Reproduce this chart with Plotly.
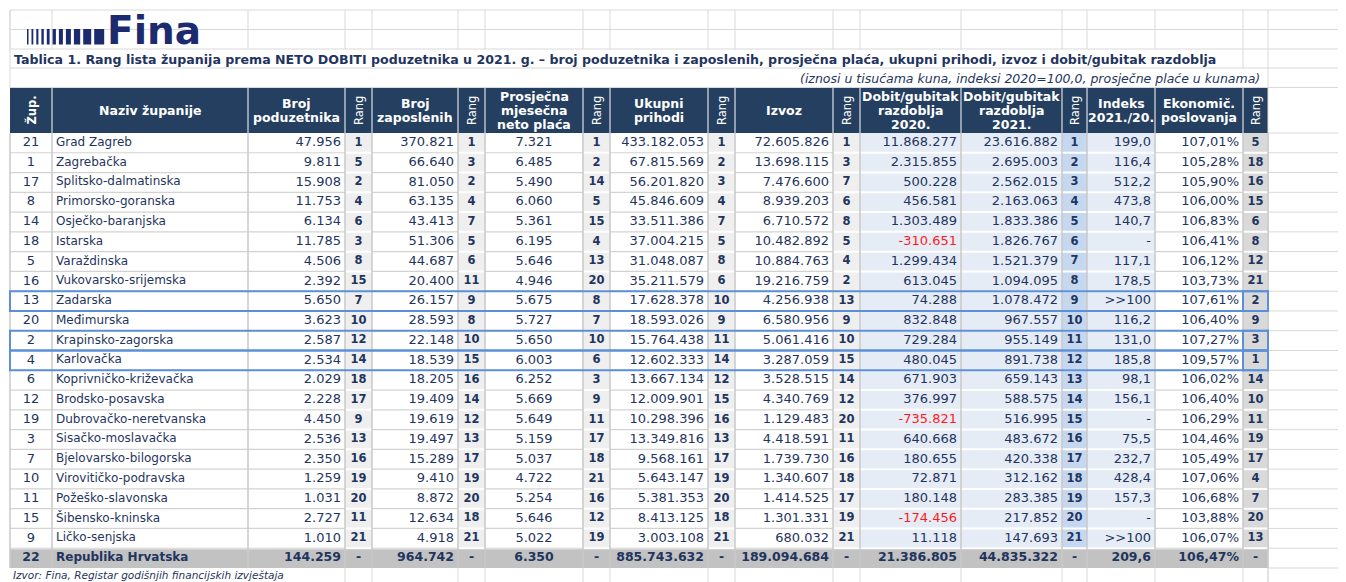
import plotly.graph_objects as go

# ---------------- data ----------------
zup = [21, 1, 17, 8, 14, 18, 5, 16, 13, 20, 2, 4, 6, 12, 19, 3, 7, 10, 11, 15, 9]
zupanije = ["Grad Zagreb", "Zagrebačka", "Splitsko-dalmatinska", "Primorsko-goranska",
            "Osječko-baranjska", "Istarska", "Varaždinska", "Vukovarsko-srijemska",
            "Zadarska", "Međimurska", "Krapinsko-zagorska", "Karlovačka",
            "Koprivničko-križevačka", "Brodsko-posavska", "Dubrovačko-neretvanska",
            "Sisačko-moslavačka", "Bjelovarsko-bilogorska", "Virovitičko-podravska",
            "Požeško-slavonska", "Šibensko-kninska", "Ličko-senjska"]
broj_poduzetnika = [47956, 9811, 15908, 11753, 6134, 11785, 4506, 2392, 5650, 3623, 2587,
                    2534, 2029, 2228, 4450, 2536, 2350, 1259, 1031, 2727, 1010]
rang_poduzetnika = [1, 5, 2, 4, 6, 3, 8, 15, 7, 10, 12, 14, 18, 17, 9, 13, 16, 19, 20, 11, 21]
broj_zaposlenih = [370821, 66640, 81050, 63135, 43413, 51306, 44687, 20400, 26157, 28593, 22148,
                   18539, 18205, 19409, 19619, 19497, 15289, 9410, 8872, 12634, 4918]
rang_zaposlenih = [1, 3, 2, 4, 7, 5, 6, 11, 9, 8, 10, 15, 16, 14, 12, 13, 17, 19, 20, 18, 21]
neto_placa = [7321, 6485, 5490, 6060, 5361, 6195, 5646, 4946, 5675, 5727, 5650,
              6003, 6252, 5669, 5649, 5159, 5037, 4722, 5254, 5646, 5022]
rang_placa = [1, 2, 14, 5, 15, 4, 13, 20, 8, 7, 10, 6, 3, 9, 11, 17, 18, 21, 16, 12, 19]
ukupni_prihodi = [433182053, 67815569, 56201820, 45846609, 33511386, 37004215, 31048087,
                  35211579, 17628378, 18593026, 15764438, 12602333, 13667134, 12009901,
                  10298396, 13349816, 9568161, 5643147, 5381353, 8413125, 3003108]
rang_prihodi = [1, 2, 3, 4, 7, 5, 8, 6, 10, 9, 11, 14, 12, 15, 16, 13, 17, 19, 20, 18, 21]
izvoz = [72605826, 13698115, 7476600, 8939203, 6710572, 10482892, 10884763, 19216759,
         4256938, 6580956, 5061416, 3287059, 3528515, 4340769, 1129483, 4418591,
         1739730, 1340607, 1414525, 1301331, 680032]
rang_izvoz = [1, 3, 7, 6, 8, 5, 4, 2, 13, 9, 10, 15, 14, 12, 20, 11, 16, 18, 17, 19, 21]
dobit_2020 = [11868277, 2315855, 500228, 456581, 1303489, -310651, 1299434, 613045, 74288,
              832848, 729284, 480045, 671903, 376997, -735821, 640668, 180655, 72871,
              180148, -174456, 11118]
dobit_2021 = [23616882, 2695003, 2562015, 2163063, 1833386, 1826767, 1521379, 1094095,
              1078472, 967557, 955149, 891738, 659143, 588575, 516995, 483672, 420338,
              312162, 283385, 217852, 147693]
rang_dobit = [1, 2, 3, 4, 5, 6, 7, 8, 9, 10, 11, 12, 13, 14, 15, 16, 17, 18, 19, 20, 21]
indeks = [199.0, 116.4, 512.2, 473.8, 140.7, None, 117.1, 178.5, ">>100", 116.2, 131.0,
          185.8, 98.1, 156.1, None, 75.5, 232.7, 428.4, 157.3, None, ">>100"]
ekonomicnost = [107.01, 105.28, 105.90, 106.00, 106.83, 106.41, 106.12, 103.73, 107.61,
                106.40, 107.27, 109.57, 106.02, 106.40, 106.29, 104.46, 105.49, 107.06,
                106.68, 103.88, 106.07]
rang_ekonomicnost = [5, 18, 16, 15, 6, 8, 12, 21, 2, 9, 3, 1, 14, 10, 11, 19, 17, 4, 7, 20, 13]

ukupno_zup = 22
ukupno_naziv = "Republika Hrvatska"
ukupno_poduzetnika = 144259
ukupno_zaposlenih = 964742
ukupno_placa = 6350
ukupno_prihodi = 885743632
ukupno_izvoz = 189094684
ukupno_dobit_2020 = 21386805
ukupno_dobit_2021 = 44835322
ukupno_indeks = 209.6
ukupno_ekonomicnost = 106.47

istaknute = ["Zadarska", "Krapinsko-zagorska", "Karlovačka"]

naslovi = ["Žup.", "Naziv županije", "Broj<br>poduzetnika", "Rang", "Broj<br>zaposlenih", "Rang",
           "Prosječna<br>mjesečna<br>neto plaća", "Rang", "Ukupni<br>prihodi", "Rang", "Izvoz",
           "Rang", "Dobit/gubitak<br>razdoblja<br>2020.", "Dobit/gubitak<br>razdoblja<br>2021.",
           "Rang", "Indeks<br>2021./20.", "Ekonomič.<br>poslovanja", "Rang"]

title = ("Tablica 1. Rang lista županija prema NETO DOBITI poduzetnika u 2021. g. – broj poduzetnika "
         "i zaposlenih, prosječna plaća, ukupni prihodi, izvoz i dobit/gubitak razdoblja")
subtitle = "(iznosi u tisućama kuna, indeksi 2020=100,0, prosječne plaće u kunama)"
source = "Izvor: Fina, Registar godišnjih financijskih izvještaja"

# ---------------- styling / layout ----------------
W, H = 1346, 582
OFF = 8  # page body margin: the plot div starts at (8, 8)
FONT = "DejaVu Sans"
NAVY = "#1f3560"
HEADER_BG = "#253f61"
EDGES = [10, 52, 248, 345, 372, 458, 485, 583, 610, 708, 735, 833, 860, 961, 1062, 1087,
         1155, 1243, 1268]
HEAD_TOP, HEAD_BOT, TABLE_BOT = 88, 133, 568
N = len(zupanije)
ROW_H = (TABLE_BOT - HEAD_BOT) / (N + 1)
RANG_BG, BLUE_BG, BLUE_RANG_BG, GRAY_RANG_BG, TOTAL_BG = "#efefef", "#e6ecf5", "#c6d8ef", "#d9d9d9", "#c2c2c2"
COL_FILL = ["white", "white", "white", RANG_BG, "white", RANG_BG, "white", RANG_BG, "white",
            RANG_BG, "white", RANG_BG, BLUE_BG, BLUE_BG, BLUE_RANG_BG, BLUE_BG, "white", GRAY_RANG_BG]
GRID = "#d9d9d9"


def row_top(i):
    return HEAD_BOT + i * ROW_H


def row_mid(i):
    return HEAD_BOT + (i + 0.5) * ROW_H


def thou(v):
    s = f"{abs(v):,}".replace(",", ".")
    return "-" + s if v < 0 else s


def dec1(v):
    if v is None:
        return "-"
    if isinstance(v, str):
        return v
    return f"{v:.1f}".replace(".", ",")


def pct(v):
    return f"{v:.2f}".replace(".", ",") + "%"


def rng(vals):
    return [str(v) for v in vals]


# (texts, total text, align, kind)
columns = [
    ([str(v) for v in zup], str(ukupno_zup), "center", "plain"),
    (zupanije, ukupno_naziv, "left", "plain"),
    ([thou(v) for v in broj_poduzetnika], thou(ukupno_poduzetnika), "right", "plain"),
    (rng(rang_poduzetnika), "-", "center", "rang"),
    ([thou(v) for v in broj_zaposlenih], thou(ukupno_zaposlenih), "right", "plain"),
    (rng(rang_zaposlenih), "-", "center", "rang"),
    ([thou(v) for v in neto_placa], thou(ukupno_placa), "center", "plain"),
    (rng(rang_placa), "-", "center", "rang"),
    ([thou(v) for v in ukupni_prihodi], thou(ukupno_prihodi), "right", "plain"),
    (rng(rang_prihodi), "-", "center", "rang"),
    ([thou(v) for v in izvoz], thou(ukupno_izvoz), "right", "plain"),
    (rng(rang_izvoz), "-", "center", "rang"),
    ([thou(v) for v in dobit_2020], thou(ukupno_dobit_2020), "right", "plain"),
    ([thou(v) for v in dobit_2021], thou(ukupno_dobit_2021), "right", "plain"),
    (rng(rang_dobit), "-", "center", "rang"),
    ([dec1(v) for v in indeks], dec1(ukupno_indeks), "right", "plain"),
    ([pct(v) for v in ekonomicnost], pct(ukupno_ekonomicnost), "right", "plain"),
    (rng(rang_ekonomicnost), "-", "center", "rang"),
]

fig = go.Figure()
shapes = []


def rect(x0, x1, y0, y1, fill, line=None, lw=0, layer="below"):
    shapes.append(dict(type="rect", xref="x", yref="y", x0=x0, x1=x1, y0=y0, y1=y1,
                       fillcolor=fill, line=dict(color=line or "rgba(0,0,0,0)", width=lw),
                       layer=layer))


def add_lines(segs, color, width):
    xs, ys = [], []
    for (x0, y0, x1, y1) in segs:
        xs += [x0, x1, None]
        ys += [y0, y1, None]
    fig.add_trace(go.Scatter(x=xs, y=ys, mode="lines", line=dict(color=color, width=width),
                             hoverinfo="skip", showlegend=False))


# spreadsheet background grid
bg = []
for y in [10, 29.5, 49, 68, 87.5]:
    bg.append((EDGES[0], y, W, y))
for x in EDGES:
    bg.append((x, 10, x, 49))
bg.append((EDGES[0], 10, EDGES[0], HEAD_TOP))
bg.append((EDGES[-2], 49, EDGES[-2], 68))
bg.append((EDGES[-1], 49, EDGES[-1], H))
for i in range(N + 2):
    bg.append((EDGES[-1], row_top(i), W, row_top(i)))
for x in EDGES[3:]:
    bg.append((x, TABLE_BOT, x, H))
add_lines(bg, GRID, 1)

# cell fills
for c in range(len(EDGES) - 1):
    rect(EDGES[c], EDGES[c + 1], HEAD_BOT, row_top(N), COL_FILL[c])
rect(EDGES[0], EDGES[-1], row_top(N), row_top(N + 1), TOTAL_BG)
rect(EDGES[0], EDGES[-1], HEAD_TOP, HEAD_BOT, HEADER_BG)

# cell separators
white_h, gray_h = [], []
for i in range(1, N + 1):
    y = row_top(i)
    white_h.append((EDGES[0], y, EDGES[-1], y))
    for c in range(len(EDGES) - 1):
        if COL_FILL[c] == "white":
            gray_h.append((EDGES[c], y, EDGES[c + 1], y))
add_lines(white_h, "white", 2)
add_lines(gray_h, "#d3d3d3", 1.2)
vert = [(x, HEAD_BOT, x, TABLE_BOT) for x in EDGES]
add_lines(vert, "#c8c8c8", 1.5)
add_lines([(x, HEAD_TOP, x, HEAD_BOT) for x in EDGES[1:-1]], "white", 1)

# cell texts
for c, (texts, tot, align, kind) in enumerate(columns):
    if align == "left":
        xa, pos = EDGES[c] + 4, "middle right"
    elif align == "right":
        xa, pos = EDGES[c + 1] - 4, "middle left"
    else:
        xa, pos = (EDGES[c] + EDGES[c + 1]) / 2, "middle center"
    colors = [("#ff1a1a" if t.startswith("-") and len(t) > 1 else NAVY) for t in texts]
    size = 12 if c == 1 else (11.5 if kind == "rang" else 13)
    fig.add_trace(go.Scatter(
        x=[xa] * N, y=[row_mid(i) for i in range(N)], text=texts, mode="text",
        textposition=pos, cliponaxis=False, hoverinfo="skip", showlegend=False,
        textfont=dict(family=FONT, size=size, color=colors,
                      weight="bold" if kind == "rang" else "normal")))
    fig.add_trace(go.Scatter(
        x=[xa], y=[row_mid(N)], text=[tot], mode="text", textposition=pos,
        cliponaxis=False, hoverinfo="skip", showlegend=False,
        textfont=dict(family=FONT, size=12 if c == 1 else 12.5, color=NAVY, weight="bold")))

# highlighted rows
for name in istaknute:
    i = zupanije.index(name)
    rect(EDGES[0], EDGES[-1], row_top(i), row_top(i + 1), "rgba(0,0,0,0)", "#5b8fd8", 2, "above")
    rect(EDGES[-2], EDGES[-1], row_top(i), row_top(i + 1), "rgba(0,0,0,0)", "#5b8fd8", 2, "above")

# header texts
annotations = []
for c, lab in enumerate(naslovi):
    xc = (EDGES[c] + EDGES[c + 1]) / 2
    yc = (HEAD_TOP + HEAD_BOT) / 2
    if lab in ("Rang", "Žup."):
        annotations.append(dict(x=xc, y=yc, xref="x", yref="y", text=lab, showarrow=False,
                                textangle=-90, font=dict(family=FONT, size=11.5, color="white",
                                weight="bold" if lab == "Žup." else "normal")))
        continue
    lines = lab.split("<br>")
    n = len(lines)
    for k, ln in enumerate(lines):
        annotations.append(dict(x=xc, y=yc + 14 * (k - (n - 1) / 2), xref="x", yref="y",
                                text="<b>" + ln + "</b>", showarrow=False,
                                font=dict(family=FONT, size=12.5, color="white")))

annotations.append(dict(x=12, y=59, xref="x", yref="y", text="<b>" + title + "</b>",
                        xanchor="left", showarrow=False,
                        font=dict(family=FONT, size=12.6, color=NAVY)))
annotations.append(dict(x=1262, y=78, xref="x", yref="y", text="<i>" + subtitle + "</i>",
                        xanchor="right", showarrow=False,
                        font=dict(family=FONT, size=12.5, color=NAVY)))
annotations.append(dict(x=11, y=575, xref="x", yref="y", text="<i>" + source + "</i>",
                        xanchor="left", yanchor="middle", showarrow=False,
                        font=dict(family=FONT, size=10.5, color=NAVY)))

# logo
LOGO = "#1b2b6e"
bar_w = [1.5, 1.8, 2.1, 2.4, 2.8, 3.3, 4.0, 5.0, 6.3, 8.0, 10.0]
x = 27
for w in bar_w:
    rect(x, x + w, 29, 44.5, LOGO, layer="above")
    x += w + 3
annotations.append(dict(x=105, y=30, xref="x", yref="y", text="<b>Fina</b>", xanchor="left",
                        showarrow=False, font=dict(family=FONT, size=39, color=LOGO)))

fig.update_layout(
    width=W - OFF, height=H - OFF, margin=dict(l=0, r=0, t=0, b=0),
    paper_bgcolor="white", plot_bgcolor="white", showlegend=False,
    xaxis=dict(range=[OFF, W], visible=False, fixedrange=True),
    yaxis=dict(range=[H, OFF], visible=False, fixedrange=True),
    shapes=shapes, annotations=annotations,
)
fig.write_html("out.html")
